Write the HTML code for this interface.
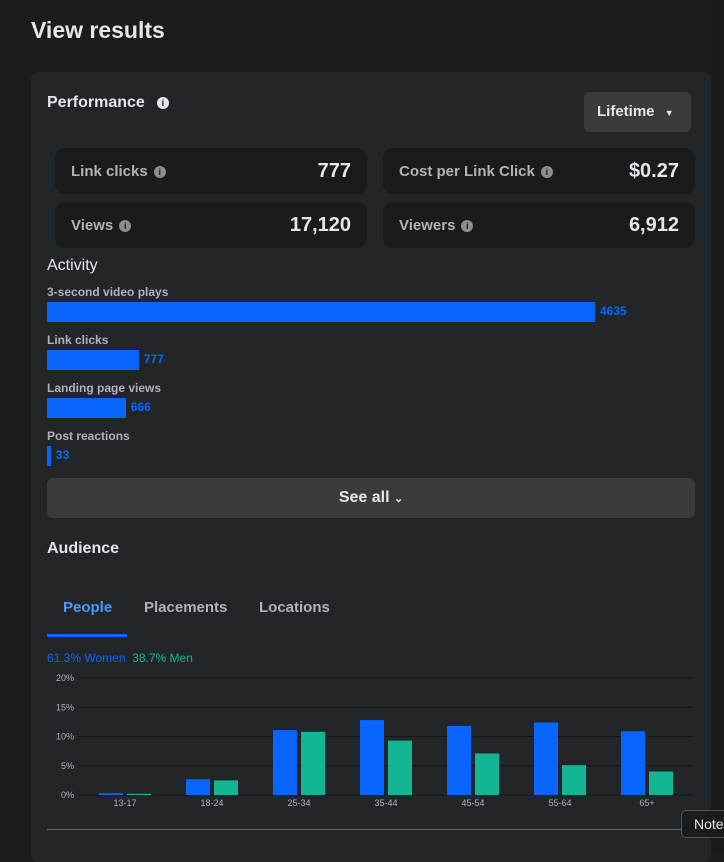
<!DOCTYPE html>
<html><head><meta charset="utf-8">
<style>
*{box-sizing:border-box;margin:0;padding:0}
body{width:724px;height:851px;background:#1c1c1d;font-family:"Liberation Sans",sans-serif;color:#e4e6eb;position:relative;overflow:hidden}
.abs{position:absolute}
.card{left:31px;top:72px;width:680px;height:790px;background:#232628;border-radius:8px}
.stat{background:#1b1b1c;border-radius:10px;height:46px;width:312px}
.stat .l{position:absolute;left:16px;top:15px;font-size:15px;font-weight:bold;color:#b0b3b8}
.stat .v{position:absolute;right:16px;top:12px;font-size:20px;font-weight:bold;color:#e4e6eb}
.info{display:inline-block;width:12px;height:12px;border-radius:50%;background:#8a8d91;color:#1b1b1c;font-size:9px;text-align:center;line-height:12px;vertical-align:1px;margin-left:6px;font-weight:bold}
.al{font-size:12px;font-weight:bold;color:#b0b3b8;left:47px}
.bar{background:#0866ff;left:47px;height:20px}
.bv{font-size:12px;font-weight:bold;color:#0866ff}
.tab{font-size:15px;top:599px;color:#b0b3b8;font-weight:bold}
</style></head><body>
<div class="abs" style="left:31px;top:17px;font-size:23px;font-weight:bold">View results</div>
<div class="abs" style="left:711px;top:0;width:13px;height:851px;background:#1a1a1a"></div>
<div class="abs card"></div>
<div class="abs" style="left:47px;top:94px;font-size:16px;font-weight:bold">Performance<span class="info" style="background:#e4e6eb;margin-left:12px">i</span></div>
<div class="abs" style="left:584px;top:92px;width:107px;height:40px;background:#3a3b3c;border-radius:6px;font-size:15px;font-weight:bold;padding:11px 0 0 13px">Lifetime <span style="font-size:9px;margin-left:6px">▼</span></div>
<div class="abs stat" style="left:55px;top:148px"><span class="l">Link clicks<span class="info">i</span></span><span class="v">777</span></div>
<div class="abs stat" style="left:383px;top:148px"><span class="l">Cost per Link Click<span class="info">i</span></span><span class="v">$0.27</span></div>
<div class="abs stat" style="left:55px;top:202px"><span class="l">Views<span class="info">i</span></span><span class="v">17,120</span></div>
<div class="abs stat" style="left:383px;top:202px"><span class="l">Viewers<span class="info">i</span></span><span class="v">6,912</span></div>
<div class="abs" style="left:47px;top:257px;font-size:16px">Activity</div>
<div id="activity"></div>
<div class="abs" style="left:47px;top:478px;width:648px;height:40px;background:#3a3b3c;border-radius:6px;text-align:center;font-size:16px;font-weight:bold;padding-top:11px">See all <span style="font-size:11px">&#x2304;</span></div>
<div class="abs" style="left:47px;top:540px;font-size:16px;font-weight:bold">Audience</div>
<div class="abs tab" style="left:63px;color:#4599ff">People</div>
<div class="abs tab" style="left:144px">Placements</div>
<div class="abs tab" style="left:259px">Locations</div>
<div class="abs" style="left:47px;top:634px;width:80px;height:3px;background:#0866ff"></div>
<div class="abs" style="left:47px;top:651px;font-size:12px"><span style="color:#0866ff">61.3% Women</span>&nbsp; <span style="color:#14b594">38.7% Men</span></div>
<svg class="abs" id="chart" style="left:0;top:0" width="724" height="851"></svg>
<div class="abs" style="left:47px;top:829px;width:648px;height:1px;background:#666"></div>
<div class="abs" style="left:681px;top:810px;width:60px;height:28px;background:#1c1c1d;border:1px solid #555;border-radius:5px;font-size:14px;padding:5px 0 0 12px">Note</div>
<script>
const actLabels=["3-second video plays","Link clicks","Landing page views","Post reactions"];
const actValues=[4635,777,666,33];
const ages=["13-17","18-24","25-34","35-44","45-54","55-64","65+"];
const women=[0.3,2.7,11.1,12.8,11.8,12.4,10.9];
const men=[0.2,2.5,10.8,9.3,7.1,5.1,4.0];
const yTicks=[0,5,10,15,20];

const act=document.getElementById('activity');
const maxA=Math.max(...actValues);
const ax=v=>v/maxA*548;
actLabels.forEach((l,i)=>{
  const y=285+i*48;
  const lab=document.createElement('div');lab.className='abs al';lab.style.top=y+'px';lab.textContent=l;
  
  
  act.appendChild(lab);
  const b=document.createElement('div');b.className='abs bar';b.style.top=(y+17)+'px';b.style.width=Math.max(3,ax(actValues[i]))+'px';
  
  
  act.appendChild(b);
  const v=document.createElement('div');v.className='abs bv';v.style.top=(y+19)+'px';v.style.left=(47+Math.max(3,ax(actValues[i]))+5)+'px';v.textContent=actValues[i];
  
  
  act.appendChild(v);
});

const svg=document.getElementById('chart');const NS='http://www.w3.org/2000/svg';
const y0=795,yTop=678,yMax=20;
const yS=v=>y0-v/yMax*(y0-yTop);
const xC=i=>125+i*87;
function mk(t,a){const e=document.createElementNS(NS,t);for(const k in a)e.setAttribute(k,a[k]);svg.appendChild(e);return e;}
yTicks.forEach(t=>{
  const g=mk('line',{x1:78,x2:693,y1:yS(t),y2:yS(t),stroke:'#151617','stroke-width':1});
  
  
  const tx=mk('text',{x:74,y:yS(t)+3,'text-anchor':'end','font-size':9,fill:'#b0b3b8','font-family':'Liberation Sans, sans-serif'});tx.textContent=t+'%';
  
  
});
ages.forEach((a,i)=>{
  const bw=mk('rect',{x:xC(i)-26,y:yS(women[i]),width:24,height:y0-yS(women[i]),fill:'#0866ff'});
  
  
  const bm=mk('rect',{x:xC(i)+2,y:yS(men[i]),width:24,height:y0-yS(men[i]),fill:'#14b594'});
  
  
  const tx=mk('text',{x:xC(i),y:806,'text-anchor':'middle','font-size':9,fill:'#b0b3b8','font-family':'Liberation Sans, sans-serif'});tx.textContent=a;
  
  
});
</script>
</body></html>
